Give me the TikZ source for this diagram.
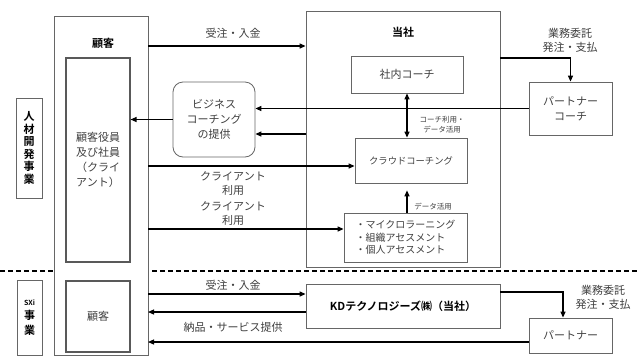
\documentclass[tikz,border=0pt]{standalone}
\usepackage{fontspec}
\setmainfont{Noto Sans CJK JP}[BoldFont={Noto Sans CJK JP Bold}]
\usetikzlibrary{arrows.meta}
\begin{document}
\begin{tikzpicture}[x=1pt,y=-1pt,
  box/.style={draw=black!60, line width=0.8pt, fill=white, inner sep=0pt, align=center, text=black!75, font=\fontsize{11}{15}\selectfont},
  ibox/.style={draw=black!65, line width=1.1pt, fill=white, inner sep=0pt, align=center, text=black!75, font=\fontsize{11}{15}\selectfont},
  arr/.style={-{Triangle[length=6pt,width=5pt]}, line width=1.2pt},
  dbl/.style={{Triangle[length=6pt,width=5pt]}-{Triangle[length=6pt,width=5pt]}, line width=1.2pt},
  lbl/.style={font=\fontsize{11}{14}\selectfont, text=black!75, align=center, inner sep=0pt},
  sml/.style={font=\fontsize{7.5}{10}\selectfont, text=black!75, align=center, inner sep=0pt},
  bld/.style={font=\bfseries\fontsize{11}{13}\selectfont, text=black, align=center, inner sep=0pt},
]
\useasboundingbox (0,0) rectangle (640,360);
\fill[white] (0,0) rectangle (640,360);
% dashed divider
\draw[line width=1.5pt, dash pattern=on 5pt off 3pt] (0,271) -- (640,271);
% side labels
\node[box, minimum width=26pt, minimum height=100pt, font=\bfseries\fontsize{11}{12.5}\selectfont, text=black] (jinzai) at (29,148) {人\\材\\開\\発\\事\\業};
\node[box, minimum width=25pt, minimum height=75pt, text=black] (sxi) at (29.5,317.5) {{\bfseries\fontsize{7}{9}\selectfont SXi}\\[-1pt]{\bfseries\fontsize{11}{14}\selectfont 事}\\{\bfseries\fontsize{11}{14}\selectfont 業}};
% customer side
\node[box, minimum width=94pt, minimum height=339pt] (kouter) at (101,185.5) {};
\node[bld] (klabel) at (103,43) {顧客};
\node[ibox, minimum width=64pt, minimum height=204pt] (client) at (98,160) {顧客役員\\及び社員\\（クライ\\アント）};
\node[ibox, minimum width=64pt, minimum height=71pt] (kokyaku2) at (98,316.5) {顧客};
% company side
\node[box, minimum width=194pt, minimum height=256pt] (tosha) at (403,139) {};
\node[bld] (tlabel) at (403,32) {当社};
\node[draw=black!55, line width=0.7pt, double=white, double distance=1.2pt, fill=white, minimum width=146pt, minimum height=143pt, inner sep=0pt] (tinner) at (406,118.5) {};
\node[box, minimum width=112pt, minimum height=37pt] (shanai) at (407,74.5) {社内コーチ};
\node[box, minimum width=112pt, minimum height=45pt, font=\fontsize{9.3}{12}\selectfont] (cloud) at (411,160.5) {クラウドコーチング};
\node[box, minimum width=123pt, minimum height=49pt, align=left, font=\fontsize{10}{12.5}\selectfont] (micro) at (405.5,237.5) {・マイクロラーニング\\・組織アセスメント\\・個人アセスメント};
\node[box, minimum width=83pt, minimum height=53pt] (pcoach) at (570.5,108.5) {パートナー\\コーチ};
\node[box, rounded corners=10pt, minimum width=82pt, minimum height=75pt] (bc) at (214,119.5) {ビジネス\\コーチング\\の提供};
\node[box, minimum width=194pt, minimum height=44pt, font=\bfseries\fontsize{11}{14}\selectfont, text=black] (kd) at (403,306) {KDテクノロジーズ㈱（当社）};
\node[box, minimum width=83pt, minimum height=35pt] (partner) at (570.5,335.5) {パートナー};
% coordinates
\coordinate (c1) at (148,46);
\coordinate (c2) at (148,166);
\coordinate (c3) at (148,229);
\coordinate (c4) at (500,58);
\coordinate (c5) at (306,134);
\coordinate (c6) at (148,294);
\coordinate (c7) at (148,312);
\coordinate (c8) at (500,292);
\coordinate (c9) at (148,342);
% connectors upper
\draw[arr] (c1) -- (c1 -| tosha.west);
\node[lbl] (l1) at (233,33) {受注・入金};
\draw[arr] (c4) -| (pcoach.north);
\node[lbl] (l2) at (570,40) {業務委託\\発注・支払};
\draw[arr] (pcoach.west) -- (pcoach.west -| bc.east);
\draw[arr] (c5) -- (c5 -| bc.east);
\draw[arr] (bc.west) -- (bc.west -| client.east);
\draw[arr] (c2) -- (c2 -| cloud.west);
\node[lbl] (l3) at (233,184) {クライアント\\利用};
\draw[arr] (c3) -- (c3 -| micro.west);
\node[lbl] (l4) at (233,214) {クライアント\\利用};
\draw[dbl] (shanai.south) -- (shanai.south |- cloud.north);
\node[sml] (l5) at (442,125) {コーチ利用・\\データ活用};
\draw[arr] ([xshift=1.5pt]micro.north) -- ([xshift=1.5pt]micro.north |- tinner.south);
\node[sml] (l6) at (433,207) {データ活用};
% connectors lower
\draw[arr] (c6) -- (c6 -| kd.west);
\node[lbl] (l7) at (233,285) {受注・入金};
\draw[arr] (c7 -| kd.west) -- (c7);
\draw[arr] (c8) -| ([xshift=-7.5pt]partner.north);
\node[lbl] (l8) at (603,297) {業務委託\\発注・支払};
\draw[arr] (c9 -| partner.west) -- (c9);
\node[lbl] (l9) at (233,327) {納品・サービス提供};
\end{tikzpicture}
\end{document}
